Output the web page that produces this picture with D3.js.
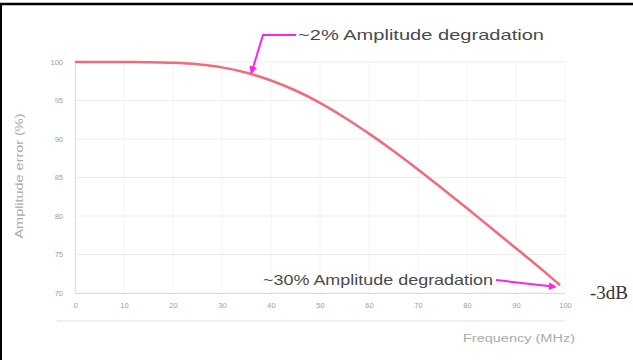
<!DOCTYPE html>
<html>
<head>
<meta charset="utf-8">
<script src="https://cdn.jsdelivr.net/npm/d3@7"></script>
<style>
  html, body { margin: 0; padding: 0; background: #fff; }
  svg { display: block; }
</style>
</head>
<body>
<svg id="chart" width="633" height="360"></svg>
<script>
// ---- data ----
const freq = [0, 5, 10, 15, 20, 25, 30, 35, 40, 45, 50, 55, 60, 65, 70, 75, 80, 85, 90, 95, 99];
const amplitude = [100, 100, 100, 99.98, 99.9, 99.7, 99.3, 98.6, 97.6, 96.3, 94.7, 92.8, 90.7, 88.45, 86.05, 83.55, 81.0, 78.4, 75.8, 73.2, 71.0];
const xTicks = [0, 10, 20, 30, 40, 50, 60, 70, 80, 90, 100];
const yTicks = [70, 75, 80, 85, 90, 95, 100];
const xTitle = "Frequency (MHz)";
const yTitle = "Amplitude error (%)";
const note1 = { text: "~2% Amplitude degradation", at: [36, 98.6] };
const note2 = { text: "~30% Amplitude degradation", at: [98, 70.8] };
const sideLabel = "-3dB";

const svg = d3.select("#chart");
const x = d3.scaleLinear().domain([0, 100]).range([75, 565]);
const y = d3.scaleLinear().domain([70, 100]).range([293, 62]);
const sans = "Liberation Sans, Arial, sans-serif";

// frame border (top and left)
svg.append("line").attr("x1", 0).attr("x2", 633).attr("y1", 4).attr("y2", 4)
  .attr("stroke", "#000").attr("stroke-width", 2.5);
svg.append("line").attr("x1", 1).attr("x2", 1).attr("y1", 3).attr("y2", 360)
  .attr("stroke", "#000").attr("stroke-width", 2);

// gridlines
const g = svg.append("g");
g.selectAll("line.hg").data(yTicks).join("line")
  .attr("class", "hg")
  .attr("x1", x(0)).attr("x2", x(100))
  .attr("y1", d => y(d)).attr("y2", d => y(d))
  .attr("stroke", "#ececec").attr("stroke-width", 1);
g.selectAll("line.vg").data(xTicks).join("line")
  .attr("class", "vg")
  .attr("x1", d => x(d)).attr("x2", d => x(d))
  .attr("y1", y(100)).attr("y2", y(70))
  .attr("stroke", "#f2f2f2").attr("stroke-width", 1);

// axes
const xAxis = svg.append("g").attr("transform", `translate(0,${y(70)})`)
  .call(d3.axisBottom(x).tickValues(xTicks).tickSize(0).tickPadding(10));
xAxis.select(".domain").attr("stroke", "#dcdcdc");
xAxis.selectAll("text").attr("fill", "#a0a0a0").attr("font-size", 7.5).attr("font-family", sans);

const yAxis = svg.append("g").attr("transform", `translate(${x(0)},0)`)
  .call(d3.axisLeft(y).tickValues(yTicks).tickSize(0).tickPadding(12));
yAxis.select(".domain").attr("stroke", "#e4e4e4");
yAxis.selectAll("text").attr("fill", "#a0a0a0").attr("font-size", 7.5).attr("font-family", sans);

// faint lower band
svg.append("line").attr("x1", 57).attr("x2", 565).attr("y1", 321).attr("y2", 321)
  .attr("stroke", "#f0f0f0").attr("stroke-width", 2);

// axis titles
svg.append("text").attr("x", 463).attr("y", 342)
  .attr("font-size", 10).attr("fill", "#aaa")
  .attr("font-family", sans)
  .attr("textLength", 112).attr("lengthAdjust", "spacingAndGlyphs")
  .text(xTitle);
svg.append("text")
  .attr("transform", "translate(23,176) rotate(-90)")
  .attr("text-anchor", "middle")
  .attr("font-size", 10.5).attr("fill", "#aaa")
  .attr("font-family", sans)
  .attr("textLength", 125).attr("lengthAdjust", "spacingAndGlyphs")
  .text(yTitle);

// curve
const line = d3.line().x((d, i) => x(freq[i])).y(d => y(d)).curve(d3.curveMonotoneX);
svg.append("path").datum(amplitude)
  .attr("d", line)
  .attr("fill", "none").attr("stroke", "#f25a6e").attr("stroke-width", 2.5)
  .attr("stroke-opacity", 0.9);

// arrow markers
const defs = svg.append("defs");
defs.append("marker").attr("id", "ah").attr("viewBox", "0 0 10 10")
  .attr("refX", 8).attr("refY", 5).attr("markerWidth", 4).attr("markerHeight", 4)
  .attr("orient", "auto")
  .append("path").attr("d", "M0,0 L10,5 L0,10 z").attr("fill", "#ff22ee");

// annotation 1
const a1 = [x(note1.at[0]), y(note1.at[1])];
svg.append("path")
  .attr("d", `M296,35 L263,35 L${a1[0]},${a1[1]}`)
  .attr("fill", "none").attr("stroke", "#ff22ee").attr("stroke-width", 2)
  .attr("marker-end", "url(#ah)");
svg.append("text").attr("x", 298).attr("y", 40)
  .attr("font-size", 15).attr("fill", "#4a4a4a")
  .attr("font-family", sans)
  .attr("textLength", 246).attr("lengthAdjust", "spacingAndGlyphs")
  .text(note1.text);

// annotation 2
const a2 = [x(note2.at[0]), y(note2.at[1])];
svg.append("path")
  .attr("d", `M496,280 L${a2[0]},${a2[1]}`)
  .attr("fill", "none").attr("stroke", "#ff22ee").attr("stroke-width", 2)
  .attr("marker-end", "url(#ah)");
svg.append("text").attr("x", 263).attr("y", 285)
  .attr("font-size", 15).attr("fill", "#4a4a4a")
  .attr("font-family", sans)
  .attr("textLength", 230).attr("lengthAdjust", "spacingAndGlyphs")
  .text(note2.text);

// side label
svg.append("text").attr("x", 590).attr("y", 299)
  .attr("font-size", 19).attr("fill", "#333")
  .attr("font-family", "Liberation Serif, Times New Roman, serif")
  .text(sideLabel);
</script>
</body>
</html>
